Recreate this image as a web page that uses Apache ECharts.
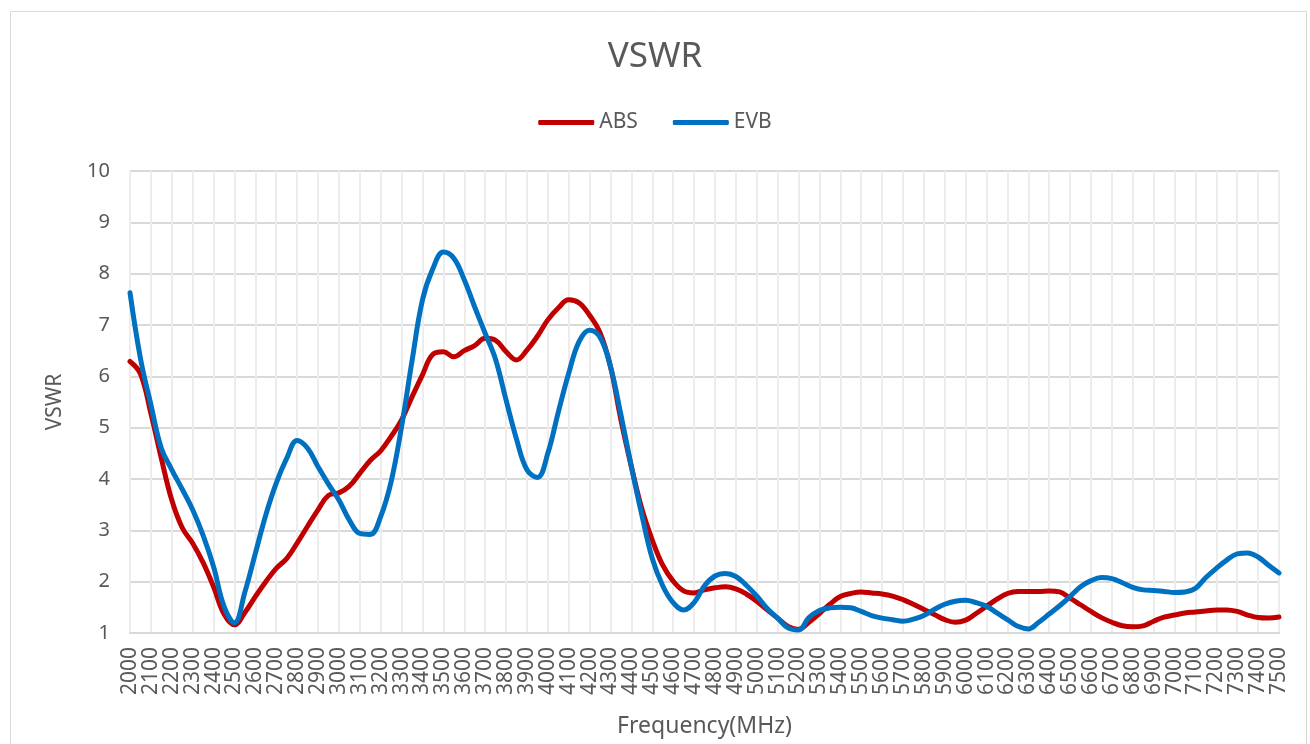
<!DOCTYPE html>
<html lang="en">

<head>
  <meta charset="UTF-8">
  <title>VSWR</title>
  <style>
    html, body {
      margin: 0;
      padding: 0;
      background: #fff;
    }

    #vswrLine {
      width: 1310px;
      height: 744px;
    }
  </style>
</head>

<body>
  <div id="vswrLine"></div>

  <script src="https://cdn.jsdelivr.net/npm/echarts@6/dist/echarts.min.js"></script>
  <script>
    // frequency points (MHz), one every 50
    const freqStart = 2000;
    const freqStep = 50;
    const freqCount = 111;

    const seriesNames = ['ABS', 'EVB'];

    // values, 2000..7500 step 50
    const absData = [
      6.29, 6.05, 5.28, 4.40, 3.59, 3.05, 2.75, 2.37, 1.90, 1.37,
      1.16, 1.40, 1.71, 2.00, 2.26, 2.45, 2.75, 3.08, 3.40, 3.68,
      3.73, 3.86, 4.11, 4.36, 4.55, 4.83, 5.15, 5.60, 6.03, 6.43,
      6.48, 6.38, 6.50, 6.60, 6.74, 6.70, 6.48, 6.32, 6.51, 6.78,
      7.10, 7.33, 7.49, 7.43, 7.19, 6.85, 6.19, 5.15, 4.24, 3.42,
      2.81, 2.32, 2.01, 1.82, 1.78, 1.84, 1.88, 1.90, 1.86, 1.76,
      1.62, 1.45, 1.29, 1.13, 1.07, 1.21, 1.38, 1.56, 1.71, 1.77,
      1.80, 1.78, 1.76, 1.72, 1.65, 1.56, 1.46, 1.36, 1.26, 1.21,
      1.25, 1.38, 1.52, 1.66, 1.77, 1.81, 1.81, 1.81, 1.82, 1.80,
      1.68, 1.55, 1.42, 1.30, 1.21, 1.14, 1.12, 1.14, 1.23, 1.31,
      1.35, 1.39, 1.41, 1.43, 1.45, 1.45, 1.42, 1.35, 1.30, 1.29,
      1.31
    ];

    const evbData = [
      7.63, 6.35, 5.45, 4.60, 4.18, 3.80, 3.40, 2.90, 2.29, 1.52,
      1.20, 1.80, 2.55, 3.30, 3.92, 4.40, 4.75, 4.60, 4.24, 3.90,
      3.59, 3.20, 2.94, 2.92, 3.27, 3.95, 5.02, 6.30, 7.49, 8.10,
      8.42, 8.30, 7.88, 7.35, 6.84, 6.33, 5.54, 4.78, 4.18, 4.03,
      4.50, 5.30, 6.06, 6.68, 6.90, 6.76, 6.19, 5.25, 4.24, 3.30,
      2.45, 1.92, 1.59, 1.45, 1.59, 1.92, 2.11, 2.16, 2.10, 1.93,
      1.72, 1.48, 1.29, 1.10, 1.06, 1.30, 1.44, 1.49, 1.50, 1.49,
      1.42, 1.34, 1.29, 1.26, 1.23, 1.27, 1.34, 1.46, 1.56, 1.62,
      1.64, 1.59, 1.52, 1.39, 1.26, 1.13, 1.08, 1.21, 1.37, 1.53,
      1.71, 1.90, 2.02, 2.08, 2.06, 1.98, 1.89, 1.84, 1.83, 1.81,
      1.79, 1.80, 1.87, 2.08, 2.26, 2.42, 2.54, 2.56, 2.48, 2.32,
      2.17
    ];

    const seriesColors = ['#C00000', '#0070C0'];

    const freqs = Array.from({ length: freqCount }, (_, i) => freqStart + i * freqStep);
    const toPairs = arr => arr.map((v, i) => [freqs[i], v]);

    const fontFamily = '"Noto Sans", "DejaVu Sans", sans-serif';
    const textColor = '#595959';

    const chart = echarts.init(document.getElementById('vswrLine'));

    chart.setOption({
      backgroundColor: '#fff',
      animation: false,
      textStyle: {
        fontFamily,
      },
      graphic: [{
        type: 'rect',
        left: 8,
        top: 9,
        shape: { width: 1296, height: 760 },
        style: { fill: 'none', stroke: '#d9d9d9', lineWidth: 1 },
        silent: true,
      }],
      title: {
        text: 'VSWR',
        left: 'center',
        top: 35,
        textStyle: {
          fontFamily,
          fontSize: 35,
          fontWeight: 'normal',
          color: textColor,
        },
      },
      legend: {
        data: seriesNames,
        top: 107,
        left: 'center',
        icon: 'roundRect',
        itemWidth: 56,
        itemHeight: 5,
        itemGap: 35,
        textStyle: {
          fontFamily,
          fontSize: 21,
          color: textColor,
        },
      },
      grid: {
        left: 130,
        right: 31,
        top: 171,
        bottom: 111,
        outerBoundsMode: 'none',
        containLabel: false,
      },
      xAxis: {
        type: 'value',
        min: 2000,
        max: 7500,
        interval: 100,
        name: 'Frequency(MHz)',
        nameLocation: 'middle',
        nameGap: 82,
        nameTextStyle: {
          fontFamily,
          fontSize: 23,
          color: textColor,
        },
        axisLine: {
          show: true,
          lineStyle: { color: '#d9d9d9', width: 2 },
        },
        axisTick: { show: false },
        axisLabel: {
          rotate: 90,
          fontFamily,
          fontSize: 21,
          color: textColor,
          margin: 14,
          showMinLabel: true,
          showMaxLabel: true,
          formatter: v => String(v),
        },
        splitLine: {
          show: true,
          lineStyle: { color: '#ededed', width: 2 },
        },
      },
      yAxis: {
        type: 'value',
        min: 1,
        max: 10,
        interval: 1,
        name: 'VSWR',
        nameLocation: 'middle',
        nameGap: 64,
        nameTextStyle: {
          fontFamily,
          fontSize: 21,
          color: textColor,
        },
        axisLine: { show: false },
        axisTick: { show: false },
        axisLabel: {
          fontFamily,
          fontSize: 20,
          color: textColor,
          margin: 20,
        },
        splitLine: {
          show: true,
          lineStyle: { color: '#d9d9d9', width: 2 },
        },
      },
      series: [
        {
          name: seriesNames[0],
          type: 'line',
          data: toPairs(absData),
          smooth: 0.4,
          showSymbol: false,
          itemStyle: { color: seriesColors[0] },
          lineStyle: { color: seriesColors[0], width: 5, cap: 'round', join: 'round' },
        },
        {
          name: seriesNames[1],
          type: 'line',
          data: toPairs(evbData),
          smooth: 0.4,
          showSymbol: false,
          itemStyle: { color: seriesColors[1] },
          lineStyle: { color: seriesColors[1], width: 5, cap: 'round', join: 'round' },
        },
      ],
    });
  </script>
</body>

</html>
